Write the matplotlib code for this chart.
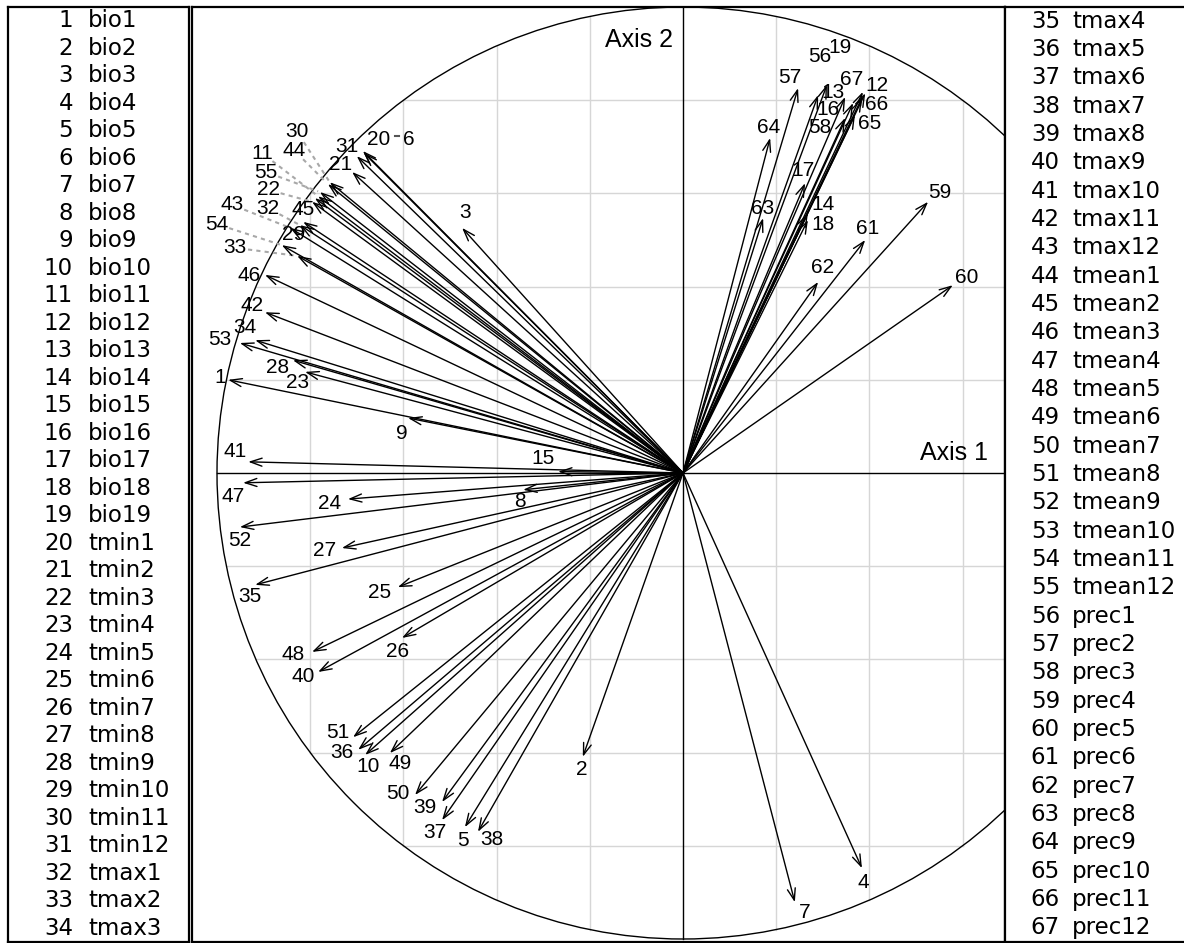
import numpy as np
import matplotlib
matplotlib.use("Agg")
import matplotlib.pyplot as plt
from matplotlib.patches import Circle, ArrowStyle

# ---------------- data ----------------
var_ids = list(range(1, 68))
var_names = [
    "bio1", "bio2", "bio3", "bio4", "bio5", "bio6", "bio7", "bio8", "bio9", "bio10",
    "bio11", "bio12", "bio13", "bio14", "bio15", "bio16", "bio17", "bio18", "bio19",
    "tmin1", "tmin2", "tmin3", "tmin4", "tmin5", "tmin6", "tmin7", "tmin8", "tmin9",
    "tmin10", "tmin11", "tmin12",
    "tmax1", "tmax2", "tmax3", "tmax4", "tmax5", "tmax6", "tmax7", "tmax8", "tmax9",
    "tmax10", "tmax11", "tmax12",
    "tmean1", "tmean2", "tmean3", "tmean4", "tmean5", "tmean6", "tmean7", "tmean8",
    "tmean9", "tmean10", "tmean11", "tmean12",
    "prec1", "prec2", "prec3", "prec4", "prec5", "prec6", "prec7", "prec8", "prec9",
    "prec10", "prec11", "prec12",
]

axis1 = [
    -0.976, -0.215, -0.474, 0.384, -0.468, -0.685, 0.240, -0.343, -0.590, -0.682,
    -0.783, 0.391, 0.348, 0.268, -0.268, 0.365, 0.262, 0.268, 0.290,
    -0.687, -0.710, -0.796, -0.811, -0.719, -0.612, -0.603, -0.732, -0.837,
    -0.815, -0.758, -0.700,
    -0.822, -0.828, -0.918, -0.918, -0.697, -0.517, -0.440, -0.517, -0.783,
    -0.933, -0.897, -0.843,
    -0.762, -0.790, -0.897, -0.944, -0.796, -0.629, -0.575, -0.708,
    -0.951, -0.951, -0.861, -0.779,
    0.309, 0.247, 0.348, 0.526, 0.579, 0.391, 0.290, 0.172, 0.187,
    0.369, 0.384, 0.386,
]
axis2 = [
    0.200, -0.609, 0.526, -0.848, -0.760, 0.687, -0.921, -0.036, 0.118, -0.605,
    0.594, 0.815, 0.807, 0.558, 0.003, 0.794, 0.622, 0.543, 0.811,
    0.691, 0.646, 0.582, 0.217, -0.056, -0.245, -0.354, -0.161, 0.242,
    0.539, 0.624, 0.680,
    0.532, 0.466, 0.285, -0.240, -0.594, -0.745, -0.770, -0.706, -0.427,
    0.024, 0.345, 0.526,
    0.620, 0.590, 0.425, -0.021, -0.384, -0.601, -0.691, -0.567,
    -0.116, 0.279, 0.489, 0.603,
    0.833, 0.826, 0.762, 0.582, 0.403, 0.500, 0.410, 0.547, 0.719,
    0.768, 0.805, 0.818,
]

# ---------------- layout (label placement, pixels, y up) ----------------
label_offsets = [
    (-8, 2), (-1, -13), (3, 15), (1, -14), (-2, -13), (45, 13), (10, -10), (-3, -12), (-6, -15), (3, -12),
    (-56, 43), (12, 8), (-12, 4), (15, 8), (-15, 13), (-25, -7), (-2, 13), (15, -5), (22, 48),
    (16, 11), (-12, 7), (-44, 12), (-8, -11), (-18, -4), (-18, -5), (-4, -14), (-17, -2), (-15, -7),
    (-10, -13), (-33, 51), (-10, 10),
    (-32, 17), (-62, 8), (-10, 13), (-5, -12), (-16, -3), (-7, -12), (14, -8), (-17, -6), (-15, -5),
    (-13, 10), (-13, 7), (-58, 23),
    (-34, 34), (-12, -11), (-16, -1), (-10, -14), (-19, -3), (10, -10), (-17, 2), (-15, 5),
    (0, -13), (-20, 3), (-65, 21), (-54, 20),
    (-7, 28), (-8, 11), (-25, -10), (12, 9), (14, 8), (2, 12), (4, 14), (-1, 10), (-2, 10),
    (15, -8), (15, -7), (-11, 12),
]
leader_ids = [30, 44, 11, 55, 22, 43, 32, 54, 33]

W, H = 1184, 943
CX, CY, R = 683, 473, 466  # circle centre / radius in pixels

LABEL_FONT = ["Liberation Sans", "DejaVu Sans"]
LEGEND_FONT = ["DejaVu Sans"]

fig = plt.figure(figsize=(W / 100, H / 100), dpi=100)
fig.patch.set_facecolor("white")

# ---------------- central correlation circle ----------------
L, Rr, T, B = 192, 1005, 7, 942
ax = fig.add_axes([L / W, (H - B) / H, (Rr - L) / W, (B - T) / H])
ax.set_xlim((L - CX) / R, (Rr - CX) / R)
ax.set_ylim((CY - B) / R, (CY - T) / R)
ax.set_xticks([])
ax.set_yticks([])
for sp in ax.spines.values():
    sp.set_linewidth(1.6)
    sp.set_color("black")

# grid clipped to the circle
for a in np.arange(-0.8, 0.81, 0.2):
    if abs(a) < 1e-9:
        continue
    h = np.sqrt(1 - a * a)
    ax.plot([a, a], [-h, h], color="#d6d6d6", lw=1.0, zorder=0)
    ax.plot([-h, h], [a, a], color="#d6d6d6", lw=1.0, zorder=0)

ax.plot([-1, 1], [0, 0], color="black", lw=1.0, zorder=1)
ax.plot([0, 0], [-1, 1], color="black", lw=1.0, zorder=1)
ax.add_patch(Circle((0, 0), 1, fill=False, ec="black", lw=1.0, zorder=1))

astyle = ArrowStyle("->", head_length=0.7, head_width=0.24)
for x, y in zip(axis1, axis2):
    ax.annotate("", xy=(x, y), xytext=(0, 0),
                arrowprops=dict(arrowstyle=astyle, lw=1.0, color="black",
                                shrinkA=0, shrinkB=0, mutation_scale=12),
                zorder=2)

inv = ax.transData.inverted()
for vid, x, y, (dx, dy) in zip(var_ids, axis1, axis2, label_offsets):
    ax.annotate(str(vid), xy=(x, y), xytext=(dx, dy), textcoords="offset pixels",
                ha="center", va="center", fontsize=15, family=LABEL_FONT, zorder=3)
    if vid in leader_ids:
        p0 = ax.transData.transform((x, y))
        p1 = p0 + np.array([dx, dy], dtype=float)
        v = p0 - p1
        d = np.hypot(*v)
        u = v / d
        start = p1 + u * 13
        end = p0 - u * 2
        s = inv.transform(start)
        e = inv.transform(end)
        ax.plot([s[0], e[0]], [s[1], e[1]], color="#a8a8a8", lw=1.5,
                linestyle=(0, (2, 2)), zorder=1)
    if vid == 6:
        # short leader tick between the "20" and "6" labels
        p1 = ax.transData.transform((x, y)) + np.array([dx, dy], dtype=float)
        s = inv.transform(p1 + np.array([-14.0, 4.0]))
        e = inv.transform(p1 + np.array([-10.0, 4.0]))
        ax.plot([s[0], e[0]], [s[1], e[1]], color="#555555", lw=1.5, zorder=1)

ax.annotate("Axis 1", xy=(ax.get_xlim()[1], 0), xytext=(-17, 20),
            textcoords="offset pixels", ha="right", va="center",
            fontsize=18, family=LABEL_FONT)
ax.annotate("Axis 2", xy=(0, ax.get_ylim()[1]), xytext=(-10, -33),
            textcoords="offset pixels", ha="right", va="center",
            fontsize=18, family=LABEL_FONT)

# ---------------- legend panels ----------------
def legend_panel(x0, x1, ids, names, num_right, name_left):
    lax = fig.add_axes([x0 / W, (H - B) / H, (x1 - x0) / W, (B - T) / H])
    lax.set_xlim(x0, x1)
    lax.set_ylim(B, T)
    lax.set_xticks([])
    lax.set_yticks([])
    for sp in lax.spines.values():
        sp.set_linewidth(1.6)
    n = len(ids)
    step = (B - T) / n
    for i, (vid, nm) in enumerate(zip(ids, names)):
        yy = T + (i + 0.5) * step
        lax.text(num_right, yy, str(vid), ha="right", va="center",
                 fontsize=16.5, family=LEGEND_FONT)
        lax.text(name_left, yy, nm, ha="left", va="center",
                 fontsize=16.5, family=LEGEND_FONT)
    return lax

legend_panel(8, 189, var_ids[:34], var_names[:34], 73, 88)
legend_panel(1005, 1192, var_ids[34:], var_names[34:], 1060, 1072)

fig.savefig("out.png", dpi=100)
